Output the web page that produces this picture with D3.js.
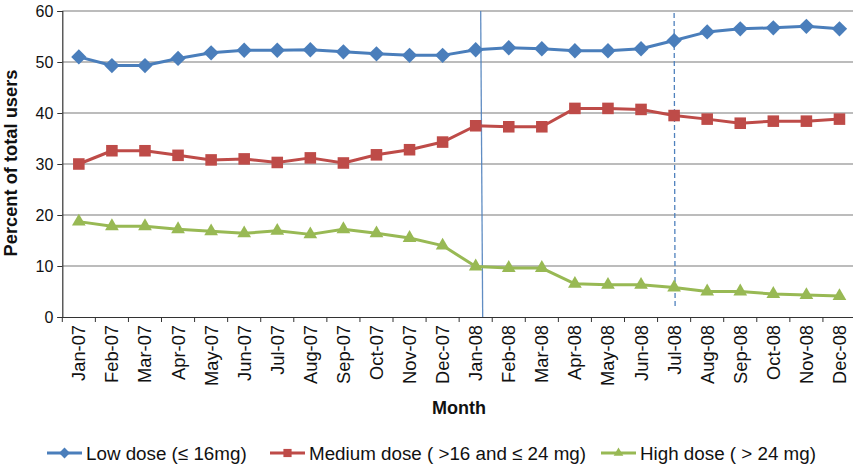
<!DOCTYPE html>
<html><head><meta charset="utf-8">
<script src="https://cdn.jsdelivr.net/npm/d3@7/dist/d3.min.js"></script>
<style>body{margin:0;background:#fff}svg{display:block;font-family:"Liberation Sans",Arial,sans-serif}</style>
</head><body>
<svg id="c" width="853" height="466"></svg>
<script>
const months = ["Jan-07","Feb-07","Mar-07","Apr-07","May-07","Jun-07","Jul-07","Aug-07","Sep-07","Oct-07","Nov-07","Dec-07",
"Jan-08","Feb-08","Mar-08","Apr-08","May-08","Jun-08","Jul-08","Aug-08","Sep-08","Oct-08","Nov-08","Dec-08"];
const lowDose = [51.0,49.3,49.3,50.7,51.8,52.3,52.3,52.4,52.0,51.6,51.3,51.3,52.4,52.8,52.6,52.2,52.2,52.6,54.2,55.9,56.5,56.7,57.0,56.5];
const mediumDose = [30.0,32.6,32.6,31.7,30.8,31.0,30.3,31.2,30.2,31.8,32.8,34.3,37.5,37.3,37.3,40.9,40.9,40.7,39.5,38.8,38.0,38.4,38.4,38.8];
const highDose = [18.7,17.8,17.8,17.2,16.8,16.4,16.9,16.2,17.2,16.4,15.5,14.0,9.9,9.6,9.6,6.5,6.3,6.3,5.8,5.0,5.0,4.5,4.3,4.1];
const seriesNames = ["Low dose (\u2264 16mg)","Medium dose ( >16 and \u2264 24 mg)","High dose ( > 24 mg)"];
const yTicks = [0,10,20,30,40,50,60];
const markerLines = ["Jan-08","Jul-08"];

const svg = d3.select("#c");
const L = 62.3, R = 856, T = 11, B = 317;
const x = d3.scaleBand().domain(months).range([L, R]);
const y = d3.scaleLinear().domain([0, 60]).range([B, T]);
const cx = m => x(m) + x.bandwidth()/2;

// gridlines
svg.append("g").selectAll("line").data(yTicks.filter(d=>d>0)).join("line")
  .attr("x1", L).attr("x2", R).attr("y1", d=>y(d)).attr("y2", d=>y(d))
  .attr("stroke", "#a6a6a6").attr("stroke-width", 1.3);

// y axis
const ya = svg.append("g").attr("transform", `translate(${L},0)`)
  .call(d3.axisLeft(y).tickValues(yTicks).tickSize(5).tickPadding(4));
ya.select(".domain").attr("stroke", "#333").attr("stroke-width", 1.2);
ya.selectAll(".tick line").attr("stroke", "#333");
ya.selectAll("text").attr("font-size", 16).attr("fill", "#111").attr("font-family", "Liberation Sans, Arial, sans-serif");

// x axis
const xa = svg.append("g").attr("transform", `translate(0,${B})`)
  .call(d3.axisBottom(x).tickSize(0).tickFormat(""));
xa.select(".domain").attr("stroke", "#333").attr("stroke-width", 1.2);
xa.selectAll(".tick").remove();
svg.append("g").selectAll("line").data(months.concat(["__end"])).join("line")
  .attr("x1", (d,i)=> i < months.length ? x(d) : R).attr("x2", (d,i)=> i < months.length ? x(d) : R)
  .attr("y1", B).attr("y2", B+5).attr("stroke", "#333").attr("stroke-width", 1);
svg.append("g").selectAll("text").data(months).join("text")
  .attr("transform", d => `translate(${cx(d)+6.5},${B+8}) rotate(-90)`)
  .attr("text-anchor", "end").attr("font-size", 18.3).attr("fill", "#111").text(d=>d);

// vertical reference lines
const v0 = cx(markerLines[0]);
svg.append("line").attr("x1", v0+5).attr("x2", v0+7).attr("y1", T).attr("y2", B)
  .attr("stroke", "#4f81bd").attr("stroke-width", 1.3).attr("opacity", 0.9);
const v1 = cx(markerLines[1]);
svg.append("line").attr("x1", v1).attr("x2", v1+1).attr("y1", T+2).attr("y2", B-9)
  .attr("stroke", "#4f81bd").attr("stroke-width", 1.3).attr("stroke-dasharray", "5,3");

// series
const series = [
  {name: seriesNames[0], values: lowDose, color: "#4a7ebb", sym: d3.symbolDiamond2, size: 150},
  {name: seriesNames[1], values: mediumDose, color: "#be4b48", sym: d3.symbolSquare2, size: 170},
  {name: seriesNames[2], values: highDose, color: "#98b954", sym: d3.symbolTriangle2, size: 135}
];
const line = d3.line().x((d,i)=>cx(months[i])).y(d=>y(d));
series.forEach(s => {
  svg.append("path").datum(s.values).attr("d", line).attr("fill","none")
    .attr("stroke", s.color).attr("stroke-width", 3).attr("stroke-linejoin","round");
  svg.append("g").selectAll("path").data(s.values).join("path")
    .attr("transform", (d,i)=>`translate(${cx(months[i])},${y(d)})`)
    .attr("d", d3.symbol(s.sym, s.size)).attr("fill", s.color);
});

// axis titles
svg.append("text").attr("transform", `translate(17,163) rotate(-90)`).attr("text-anchor","middle")
  .attr("font-size", 18.3).attr("font-weight","bold").attr("fill","#111").text("Percent of total users");
svg.append("text").attr("x", 459).attr("y", 414).attr("text-anchor","middle")
  .attr("font-size", 18).attr("font-weight","bold").attr("fill","#111").text("Month");

// legend
const legX = [47, 270, 601];
const leg = svg.append("g");
series.forEach((s,i) => {
  const g = leg.append("g").attr("transform", `translate(${legX[i]},453)`);
  g.append("line").attr("x1",0).attr("x2",35).attr("stroke",s.color).attr("stroke-width",3);
  g.append("path").attr("transform","translate(17.5,0)").attr("d", d3.symbol(s.sym, s.size*0.5)).attr("fill", s.color);
  g.append("text").attr("x", 39).attr("y", 7).attr("font-size", 18.8).attr("fill","#111").text(s.name);
});
</script>
</body></html>
